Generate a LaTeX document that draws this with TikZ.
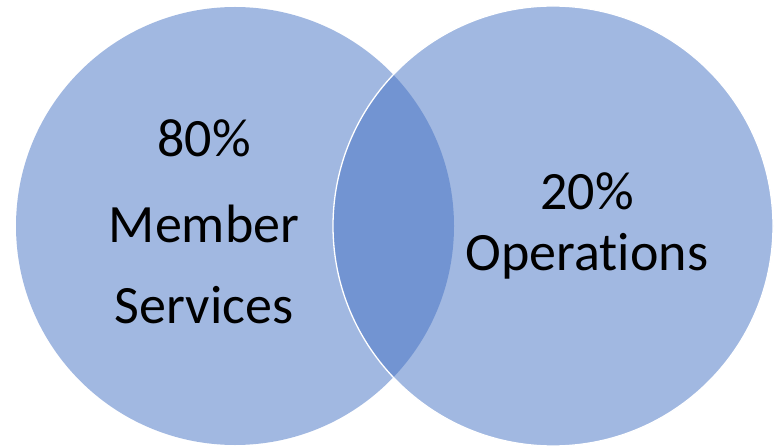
\documentclass[tikz,border=0pt]{standalone}
\usepackage{fontspec}
\setmainfont{Carlito}[Ligatures={NoCommon,NoRare,NoContextual}]
\definecolor{vennblue}{HTML}{4472C4}
\begin{document}
\begin{tikzpicture}[x=1pt,y=-1pt,
  venn/.style={fill=vennblue,fill opacity=0.5,draw=none},
  rim/.style={draw=white,line width=1.3pt},
  lbl/.style={anchor=base,inner sep=0pt,font=\fontsize{54}{60}\selectfont,text=black}]
\useasboundingbox[fill=white] (0,0) rectangle (778,446);
\fill[venn] (235,226) circle[radius=219];
\fill[venn] (553,226) circle[radius=220];
\draw[rim] (553,226) circle[radius=220];
\node[lbl] (l1) at (204,157) {80\%};
\node[lbl] (l2) at (204,242) {Member};
\node[lbl] (l3) at (204,323) {Services};
\node[lbl] (r1) at (587,210) {20\%};
\node[lbl] (r2) at (587,270) {Operations};
\end{tikzpicture}
\end{document}
